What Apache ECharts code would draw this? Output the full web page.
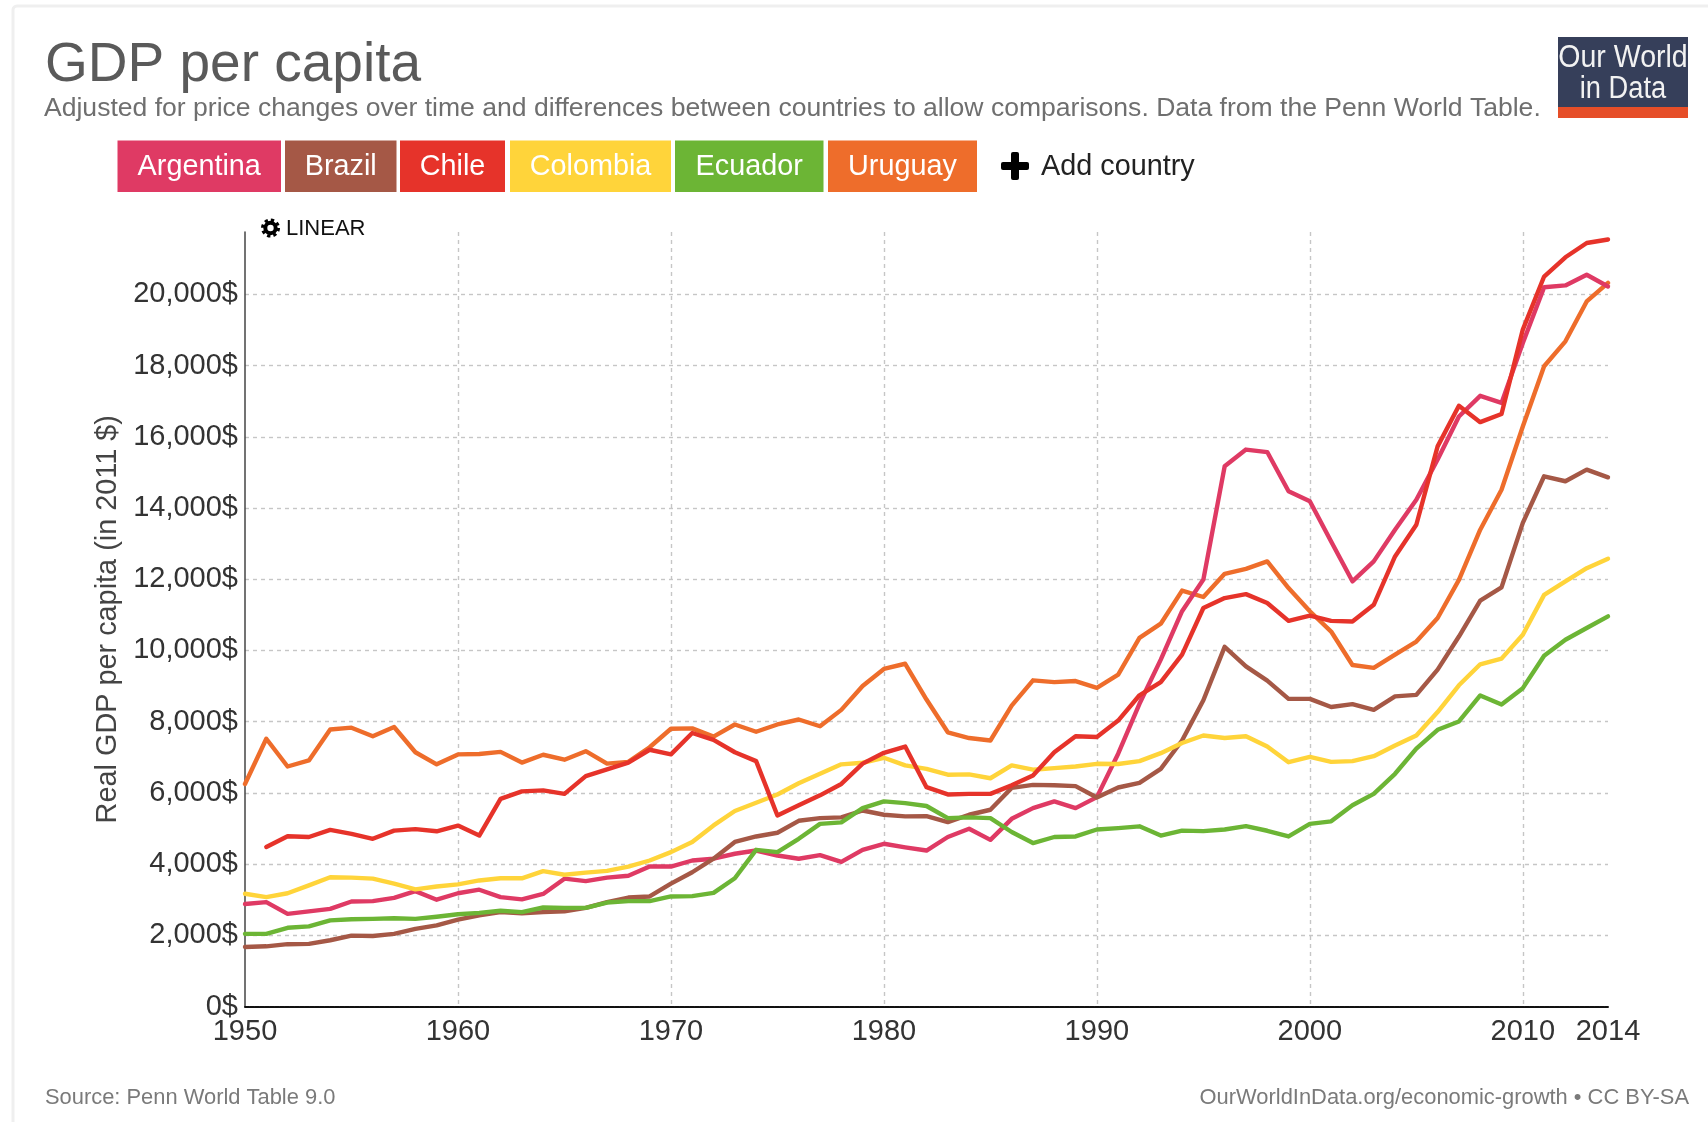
<!DOCTYPE html>
<html>
<head>
<meta charset="utf-8">
<title>GDP per capita</title>
<script src="https://cdn.jsdelivr.net/npm/echarts@6/dist/echarts.min.js"></script>
<style>html,body{margin:0;padding:0;background:#fff}#chart{width:1708px;height:1122px}</style>
</head>
<body>
<div id="chart"></div>
<script>
const firstYear = 1950;
const lastYear = 2014;
const years = [];
for (let y = firstYear; y <= lastYear; y++) years.push(y);

const argentina = [2880,2930,2600,2670,2740,2950,2960,3050,3240,3000,3180,3280,3070,3010,3160,3590,3520,3620,3670,3930,3930,4100,4150,4290,4380,4240,4150,4250,4060,4400,4570,4470,4380,4760,4990,4680,5270,5570,5760,5570,5880,7100,8500,9740,11100,11990,15170,15640,15570,14470,14190,13060,11940,12500,13390,14230,15360,16570,17150,16950,18630,20200,20250,20550,20220];
const brazil = [1670,1690,1750,1760,1860,1990,1980,2040,2180,2280,2440,2560,2650,2620,2650,2670,2770,2930,3060,3090,3450,3770,4150,4620,4775,4880,5215,5290,5310,5505,5385,5340,5345,5180,5385,5525,6140,6225,6215,6190,5870,6150,6280,6675,7470,8600,10100,9550,9150,8640,8640,8410,8490,8330,8710,8750,9460,10390,11400,11770,13580,14890,14750,15075,14860];
const chile = [null,4480,4780,4760,4960,4850,4710,4940,4980,4920,5080,4800,5830,6040,6070,5970,6470,6660,6850,7210,7080,7680,7490,7140,6890,5365,5650,5930,6250,6820,7125,7300,6160,5955,5970,5970,6210,6490,7140,7590,7570,8030,8740,9110,9880,11190,11470,11580,11330,10830,10980,10830,10810,11280,12640,13530,15730,16870,16410,16640,19010,20500,21040,21440,21540];
const colombia = [3165,3070,3180,3400,3630,3620,3590,3450,3290,3370,3430,3540,3600,3600,3800,3700,3760,3810,3930,4100,4335,4620,5085,5490,5720,5955,6270,6535,6800,6845,6985,6770,6675,6510,6520,6410,6770,6650,6695,6740,6815,6810,6890,7115,7400,7610,7540,7590,7300,6860,7010,6870,6890,7030,7330,7610,8270,9020,9610,9770,10440,11560,11940,12310,12575];
const ecuador = [2040,2040,2210,2250,2420,2450,2460,2480,2460,2520,2590,2630,2690,2650,2780,2770,2770,2920,2960,2960,3090,3100,3190,3600,4400,4335,4710,5130,5170,5570,5760,5710,5630,5290,5310,5290,4900,4590,4760,4775,4970,5010,5060,4800,4940,4925,4970,5065,4935,4775,5130,5200,5650,5970,6535,7240,7770,8005,8735,8480,8940,9850,10300,10630,10955];
const uruguay = [6250,7520,6740,6910,7780,7830,7590,7850,7140,6800,7080,7090,7150,6850,7070,6930,7170,6820,6870,7280,7800,7810,7580,7920,7715,7920,8060,7870,8330,9000,9480,9625,8620,7700,7540,7470,8450,9160,9110,9140,8950,9320,10350,10750,11680,11500,12150,12290,12500,11750,11100,10530,9590,9510,9880,10250,10910,11980,13390,14510,16290,17980,18680,19800,20320];

const countryNames = ['Argentina','Brazil','Chile','Colombia','Ecuador','Uruguay'];
const countryColors = ['#df3a64','#a55846','#e6332a','#ffd43a','#6cb535','#ee6d2b'];
const countryValues = [argentina, brazil, chile, colombia, ecuador, uruguay];
const drawOrder = [5, 0, 1, 3, 4, 2];

const yMax = 21750;
const yStep = 2000;
const xStep = 10;

const titleText = 'GDP per capita';
const subtitleText = 'Adjusted for price changes over time and differences between countries to allow comparisons. Data from the Penn World Table.';
const yAxisTitle = 'Real GDP per capita (in 2011 $)';
const sourceText = 'Source: Penn World Table 9.0';
const creditText = 'OurWorldInData.org/economic-growth • CC BY-SA';
const addText = 'Add country';
const scaleText = 'LINEAR';
const logoLines = ['Our World', 'in Data'];

const FONT = '"Liberation Sans", Arial, sans-serif';
const legendBoxes = [[117.5,163.5],[285,111.5],[400,105],[510,161],[675,148.5],[828,149]];

const g = [];
// card outline
g.push({type:'rect', shape:{x:13,y:6,width:1800,height:1300,r:4}, style:{fill:'#fff',stroke:'#efefef',lineWidth:3}, z:-1});
// heading
g.push({type:'text', x:45, y:66, style:{text:titleText, font:'55px '+FONT, fill:'#5a5a5a', align:'left', verticalAlign:'middle'}});
g.push({type:'text', x:44, y:108.5, style:{text:subtitleText, font:'26.56px '+FONT, fill:'#6f6f6f', align:'left', verticalAlign:'middle'}});
// legend chips
countryNames.forEach((n,i)=>{
  const b = legendBoxes[i];
  g.push({type:'rect', shape:{x:b[0],y:140.5,width:b[1],height:51.5}, style:{fill:countryColors[i]}});
  g.push({type:'text', x:b[0]+b[1]/2, y:167, style:{text:n, font:'28.8px '+FONT, fill:'#fff', align:'center', verticalAlign:'middle'}});
});
// add country
g.push({type:'rect', shape:{x:1001,y:162,width:28,height:8,r:2}, style:{fill:'#000'}});
g.push({type:'rect', shape:{x:1011,y:152,width:8,height:28,r:2}, style:{fill:'#000'}});
g.push({type:'text', x:1041, y:167, style:{text:addText, font:'28.8px '+FONT, fill:'#222', align:'left', verticalAlign:'middle'}});
// scale toggle
g.push({type:'circle', shape:{cx:270.5,cy:228,r:5.2}, style:{fill:'none',stroke:'#000',lineWidth:4}});
g.push({type:'circle', shape:{cx:270.5,cy:228,r:8}, style:{fill:'none',stroke:'#000',lineWidth:3,lineDash:[3.3,3]}});
g.push({type:'text', x:286, y:229, style:{text:scaleText, font:'22px '+FONT, fill:'#111', align:'left', verticalAlign:'middle'}});
// logo
g.push({type:'rect', shape:{x:1558,y:37,width:130,height:70}, style:{fill:'#363f5a'}});
g.push({type:'rect', shape:{x:1558,y:107,width:130,height:11}, style:{fill:'#e64e28'}});
g.push({type:'text', x:1623, y:58, scaleX:0.92, style:{text:logoLines[0], font:'31px '+FONT, fill:'#f2f2f2', align:'center', verticalAlign:'middle'}});
g.push({type:'text', x:1623, y:89, scaleX:0.88, style:{text:logoLines[1], font:'31px '+FONT, fill:'#f2f2f2', align:'center', verticalAlign:'middle'}});
// footer
g.push({type:'text', x:45, y:1098, style:{text:sourceText, font:'21.9px '+FONT, fill:'#7a7a7a', align:'left', verticalAlign:'middle'}});
g.push({type:'text', x:1689, y:1098, style:{text:creditText, font:'21.9px '+FONT, fill:'#7a7a7a', align:'right', verticalAlign:'middle'}});

const chart = echarts.init(document.getElementById('chart'), null, {renderer:'canvas'});
chart.setOption({
  animation:false,
  backgroundColor:'#fff',
  graphic:{elements:g},
  grid:{left:245, top:232, width:1363, height:774.5, containLabel:false},
  xAxis:{
    type:'value', min:firstYear, max:lastYear, interval:xStep,
    axisLine:{show:true, onZero:false, lineStyle:{color:'#111', width:2, type:[4,1]}},
    axisTick:{show:false},
    axisLabel:{color:'#333', fontSize:29, fontFamily:FONT, margin:11, showMaxLabel:true, showMinLabel:true,
      formatter:v=>String(v), hideOverlap:false},
    splitLine:{show:true, showMinLine:false, showMaxLine:false, lineStyle:{color:'#c6c6c6', width:1.4, type:[4,4]}}
  },
  yAxis:{
    type:'value', min:0, max:yMax, interval:yStep,
    name:yAxisTitle, nameLocation:'middle', nameGap:115, nameRotate:90,
    nameTextStyle:{color:'#444', fontSize:28.85, fontFamily:FONT},
    axisLine:{show:true, onZero:false, lineStyle:{color:'#444', width:1.5}},
    axisTick:{show:false},
    axisLabel:{color:'#333', fontSize:29, fontFamily:FONT, margin:7, padding:[5,0,0,0], showMaxLabel:false, showMinLabel:true,
      formatter:v=>v.toLocaleString('en-US')+'$'},
    splitLine:{show:true, showMinLine:false, showMaxLine:false, lineStyle:{color:'#c6c6c6', width:1.4, type:[4,4]}}
  },
  series:drawOrder.map(i=>({
    name:countryNames[i], type:'line', showSymbol:false, silent:true, smooth:false, connectNulls:false, clip:false,
    data:years.map((y,k)=>[y,countryValues[i][k]]),
    itemStyle:{color:countryColors[i]},
    lineStyle:{color:countryColors[i], width:4.4, join:'round', cap:'round'}
  }))
});
</script>
</body>
</html>
